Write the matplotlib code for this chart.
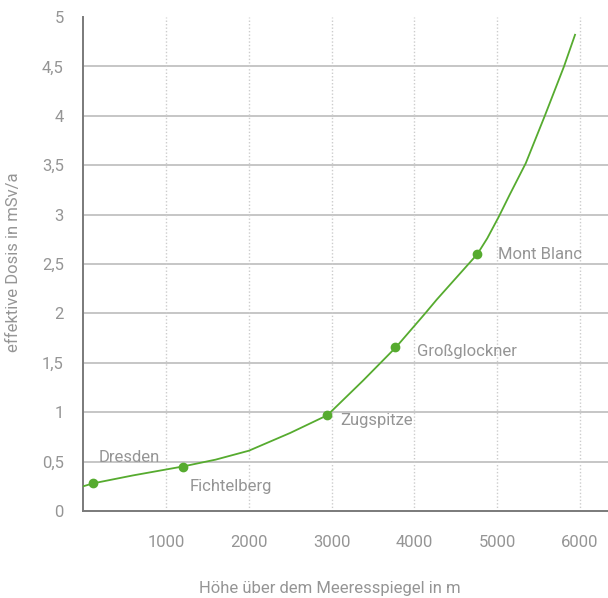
import matplotlib
matplotlib.use("Agg")
import matplotlib.pyplot as plt

# curve
curve_alt = [0, 120, 600, 1200, 1600, 2000, 2500, 2950, 3380, 3780, 4130, 4270, 4760, 4880, 5020, 5150, 5345, 5575, 5807, 5940]
curve_dose = [0.25, 0.28, 0.36, 0.45, 0.52, 0.61, 0.79, 0.97, 1.32, 1.66, 2.0, 2.14, 2.60, 2.76, 2.98, 3.20, 3.52, 4.0, 4.5, 4.82]

# marked places
place_names = ["Dresden", "Fichtelberg", "Zugspitze", "Großglockner", "Mont Blanc"]
place_alt = [120, 1205, 2950, 3771, 4760]
place_dose = [0.28, 0.45, 0.97, 1.66, 2.60]

xticks = [1000, 2000, 3000, 4000, 5000, 6000]
xtick_labels = ["1000", "2000", "3000", "4000", "5000", "6000"]
yticks = [0, 0.5, 1, 1.5, 2, 2.5, 3, 3.5, 4, 4.5, 5]
ytick_labels = ["0", "0,5", "1", "1,5", "2", "2,5", "3", "3,5", "4", "4,5", "5"]

plt.rcParams['font.family'] = ['Roboto', 'DejaVu Sans']
txt = "#959595"
green = "#56ab2f"
FS = 12
FW = 'normal'

fig = plt.figure(figsize=(6.08, 5.98), dpi=100)
ax = fig.add_axes([83.2 / 608, 87 / 598, 1 - 83.2 / 608, (511 - 17) / 598])
ax.set_xlim(0, (608 - 83.2) / 82.8 * 1000)
ax.set_ylim(0, 5)

for y in yticks[1:-1]:
    ax.axhline(y, color="#c6c6c6", lw=1.4, zorder=1)
for x in xticks:
    ax.axvline(x, color="#cccccc", lw=1.0, ls=(0, (1, 1.5)), zorder=1)

ax.plot(curve_alt, curve_dose, color=green, lw=1.3, zorder=3)
ax.plot(place_alt, place_dose, 'o', color=green, ms=6, zorder=4)

offsets = [(3.6, 18.7), (5, -14.4), (9.4, -3.6), (15.8, -2.9), (15, 0)]
for name, x, y, off in zip(place_names, place_alt, place_dose, offsets):
    ax.annotate(name, (x, y), xytext=off, textcoords='offset points',
                ha='left', va='center', color=txt, fontsize=FS, fontweight=FW)

ax.set_xticks(xticks)
ax.set_xticklabels(xtick_labels)
ax.set_yticks(yticks)
ax.set_yticklabels(ytick_labels)
ax.tick_params(axis='both', length=0, labelsize=FS, labelcolor=txt)
ax.tick_params(axis='x', pad=17)
ax.tick_params(axis='y', pad=14)
for lab in ax.get_xticklabels() + ax.get_yticklabels():
    lab.set_fontweight(FW)

for s in ['top', 'right']:
    ax.spines[s].set_visible(False)
for s in ['left', 'bottom']:
    ax.spines[s].set_color("#7a7a7a")
    ax.spines[s].set_linewidth(1.4)

fig.text(330 / 608, 1 - 589 / 598, "Höhe über dem Meeresspiegel in m", ha='center', va='center',
         color=txt, fontsize=FS, fontweight=FW)
fig.text(14 / 608, 1 - 262 / 598, "effektive Dosis in mSv/a", ha='center', va='center',
         rotation=90, color=txt, fontsize=FS, fontweight=FW)

fig.savefig("out.png", dpi=100)
